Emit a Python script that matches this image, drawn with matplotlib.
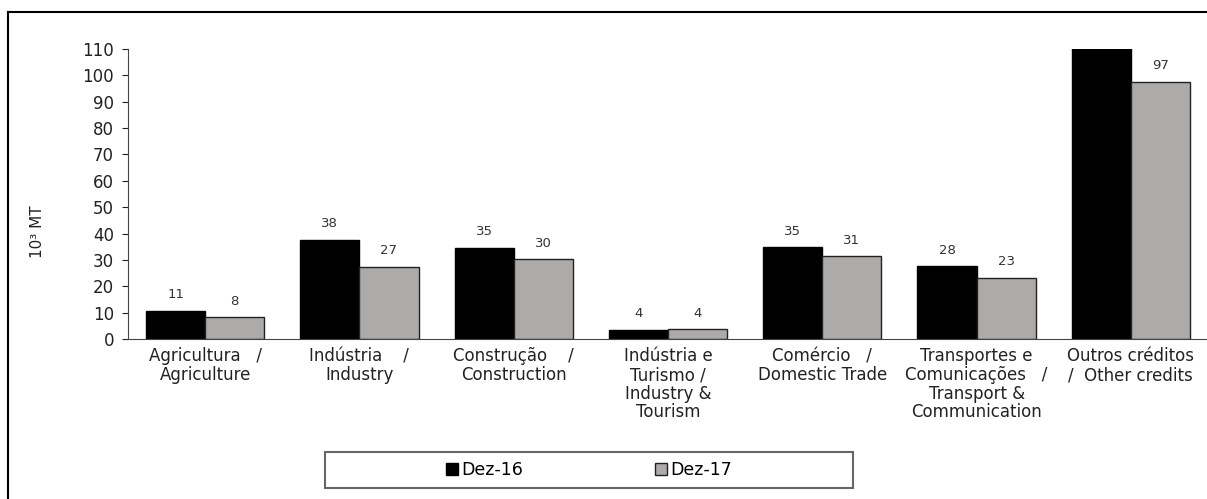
import matplotlib
matplotlib.use("Agg")
import matplotlib.pyplot as plt
import numpy as np
from matplotlib.lines import Line2D
from matplotlib.patches import Rectangle

categories = [
    "Agricultura   /\nAgriculture",
    "Indústria    /\nIndustry",
    "Construção    /\nConstruction",
    "Indústria e\nTurismo /\nIndustry &\nTourism",
    "Comércio   /\nDomestic Trade",
    "Transportes e\nComunicações   /\nTransport &\nCommunication",
    "Outros créditos\n/  Other credits",
]
dez16 = [10.6, 37.6, 34.6, 3.6, 34.8, 27.6, 115.0]
dez17 = [8.2, 27.4, 30.2, 3.7, 31.3, 23.1, 97.4]
series_names = ["Dez-16", "Dez-17"]
yticks = list(range(0, 111, 10))

plt.rcParams['font.family'] = ['DejaVu Sans']
W, H = 1207, 499
fig = plt.figure(figsize=(W / 100, H / 100), dpi=100)
ax = fig.add_axes([128 / W, 1 - 339 / H, (1208 - 128) / W, (339 - 49) / H])

x = np.arange(len(categories))
w = 0.383
b1 = ax.bar(x - w/2, dez16, w, color="black", edgecolor="black", linewidth=1, label=series_names[0])
b2 = ax.bar(x + w/2, dez17, w, color="#ADAAAA", edgecolor="#222222", linewidth=1, label=series_names[1])

ax.set_ylim(0, 110)
ax.set_xlim(-0.5, len(categories) - 0.5)
ax.set_yticks(yticks)
ax.tick_params(axis='y', labelsize=12, length=4, direction='out', pad=6, colors='#222222')
ax.set_xticks(x)
ax.set_xticklabels(categories, fontsize=12, linespacing=1.05, color='#222222')
ax.tick_params(axis='x', length=0, pad=6)

for s in ['top', 'right']:
    ax.spines[s].set_visible(False)
for s in ['left', 'bottom']:
    ax.spines[s].set_color('#444444')

for bars, vals in ((b1, dez16), (b2, dez17)):
    for rect, v in zip(bars, vals):
        if v <= 110:
            ax.annotate(f"{v:.0f}", (rect.get_x() + rect.get_width()/2, v),
                        xytext=(0, 7), textcoords='offset points',
                        ha='center', va='bottom', fontsize=9.5, color='#333333')

fig.text(38 / W, 1 - 232 / H, "10³ MT", rotation=90, ha='center', va='center',
         fontsize=11, color='#222222')

# legend box
lx0, lx1, ly0, ly1 = 325, 853, 452, 488
fig.add_artist(Rectangle((lx0 / W, 1 - ly1 / H), (lx1 - lx0) / W, (ly1 - ly0) / H,
                         transform=fig.transFigure, fill=False,
                         edgecolor='#666666', linewidth=1.5))
leg = fig.legend(handles=[b1, b2], labels=series_names, loc='center',
                 bbox_to_anchor=(589 / W, 1 - 470 / H), ncol=2, frameon=False,
                 fontsize=12.5, handlelength=0.7, handleheight=0.7, handletextpad=0.2,
                 columnspacing=7.6)

# outer frame (left and top edges)
fig.add_artist(Line2D([8 / W, 8 / W], [0, 1 - 12 / H], transform=fig.transFigure,
                      color='black', linewidth=1.5))
fig.add_artist(Line2D([8 / W, 1], [1 - 12 / H, 1 - 12 / H], transform=fig.transFigure,
                      color='black', linewidth=1.5))

fig.savefig("out.png", dpi=100)
